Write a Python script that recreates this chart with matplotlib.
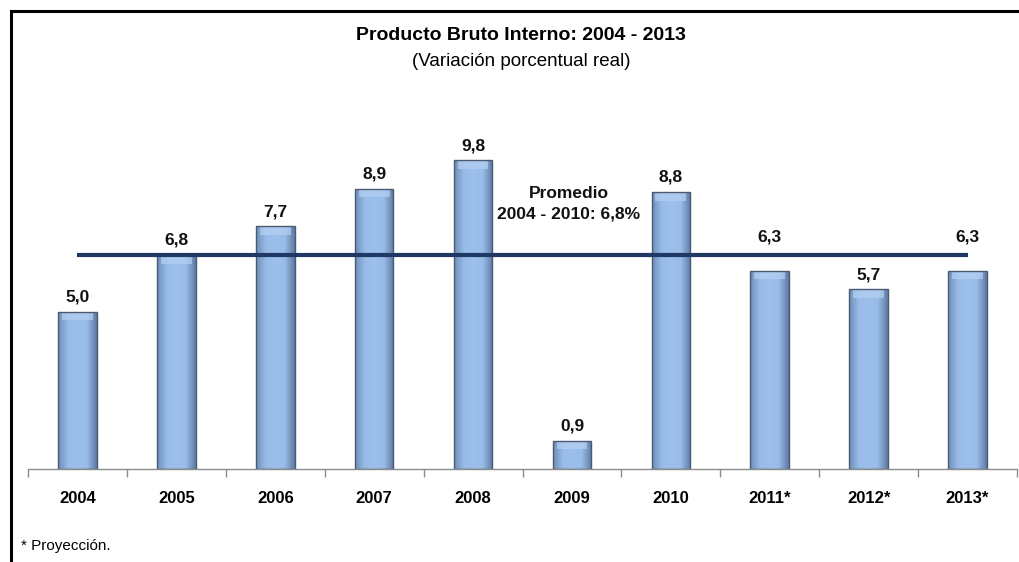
import matplotlib
matplotlib.use("Agg")
import numpy as np
import matplotlib.pyplot as plt
from matplotlib.lines import Line2D
from matplotlib.colors import LinearSegmentedColormap

plt.rcParams['font.family'] = ['Liberation Sans Narrow', 'Liberation Sans', 'DejaVu Sans']

# Datos
anios = ['2004', '2005', '2006', '2007', '2008', '2009', '2010', '2011*', '2012*', '2013*']
variacion = [5.0, 6.8, 7.7, 8.9, 9.8, 0.9, 8.8, 6.3, 5.7, 6.3]
promedio = 6.8

fig = plt.figure(figsize=(10.2, 5.62), dpi=100)
ax = fig.add_axes([28 / 1020, 1 - 469 / 562, (1017 - 28) / 1020, (469 - 122.5) / 562])

x = list(range(len(anios)))
ancho = 0.39
barras = ax.bar(x, variacion, width=ancho, color='#8DB4E2', edgecolor='#4A5A70',
                linewidth=1.0, zorder=2)

# Relleno con degradado para dar relieve a las barras
cmap = LinearSegmentedColormap.from_list('bisel', ['#6F8FBA', '#98BBE8', '#9CC0EC', '#98BBE8', '#5F7BA3'])
grad = np.linspace(0, 1, 64).reshape(1, -1)
for b in barras:
    x0, y0 = b.get_x(), b.get_y()
    w, h = b.get_width(), b.get_height()
    im = ax.imshow(grad, cmap=cmap, aspect='auto', extent=[x0, x0 + w, y0, y0 + h],
                   zorder=2.1, interpolation='bicubic')
    im.set_clip_path(b)
    # borde superior más claro
    ax.fill_between([x0 + w * 0.1, x0 + w * 0.9], y0 + h - 0.28, y0 + h - 0.02,
                    color='#B5D0F2', alpha=0.7, lw=0, zorder=2.2)
    b.set_zorder(2.3)
    b.set_facecolor('none')

# Etiquetas de valores (las que tocan la línea del promedio van más arriba)
for xi, v in zip(x, variacion):
    extra = 14 if abs(v - promedio) < 0.8 and v < promedio else 0
    ax.annotate(f'{v:.1f}'.replace('.', ','), (xi, v), xytext=(0, 5 + extra),
                textcoords='offset points', ha='center', va='bottom',
                fontsize=12.5, fontweight='bold', color='#111111')

# Línea del promedio
ax.plot([x[0], x[-1]], [promedio, promedio], color='#1F3864', lw=3, zorder=3,
        solid_capstyle='butt')
ax.text(4.97, 8.43, 'Promedio\n2004 - 2010: ' + f'{promedio:.1f}'.replace('.', ',') + '%',
        ha='center', va='center', fontsize=12.5, fontweight='bold', linespacing=1.45,
        color='#111111')

ax.set_xlim(-0.5, len(anios) - 0.5)
ax.set_ylim(0, 11)
ax.set_yticks([])
for s in ['top', 'right', 'left']:
    ax.spines[s].set_visible(False)
ax.spines['bottom'].set_color('#8C8C8C')
ax.spines['bottom'].set_linewidth(1.0)

ax.set_xticks(x)
ax.set_xticklabels(anios, fontsize=12, fontweight='bold')
ax.tick_params(axis='x', which='major', length=0, pad=16)
ax.set_xticks([i - 0.5 for i in range(len(anios) + 1)], minor=True)
ax.tick_params(axis='x', which='minor', length=6, color='#8C8C8C', width=1.0)

# Títulos
fig.text(0.511, 1 - 35 / 562, 'Producto Bruto Interno: 2004 - 2013', ha='center', va='center',
         fontsize=14, fontweight='bold')
fig.text(0.511, 1 - 62 / 562, '(Variación porcentual real)', ha='center', va='center',
         fontsize=13.5)
fig.text(21 / 1020, 1 - 546 / 562, '* Proyección.', ha='left', va='center', fontsize=11)

# Marco
fig.add_artist(Line2D([11 / 1020, 1.0], [1 - 10.5 / 562, 1 - 10.5 / 562], color='black', lw=2.2))
fig.add_artist(Line2D([11 / 1020, 11 / 1020], [0.0, 1 - 10.5 / 562], color='black', lw=2.2))

fig.savefig('out.png', dpi=100)
